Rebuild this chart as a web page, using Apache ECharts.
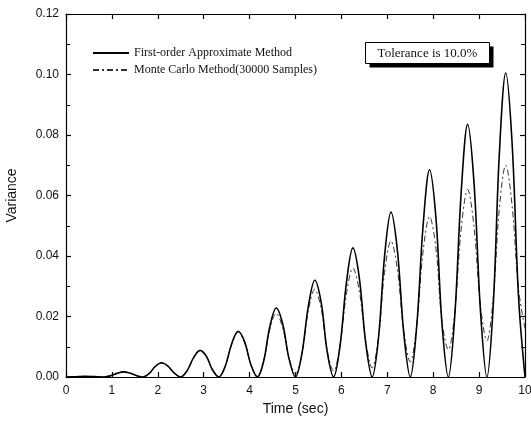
<!DOCTYPE html>
<html>
<head>
<meta charset="utf-8">
<script src="https://cdn.jsdelivr.net/npm/echarts@6/dist/echarts.min.js"></script>
<style>
  html, body { margin: 0; padding: 0; background: #fff; }
  #chart { width: 531px; height: 430px; }
</style>
</head>
<body>
<div id="chart"></div>
<script>
// time samples (sec), six per oscillation hump
const times = [
  0, 0.14, 0.28, 0.42, 0.56, 0.69,
  0.83, 0.97, 1.11, 1.25, 1.39, 1.53,
  1.67, 1.81, 1.94, 2.08, 2.22, 2.36,
  2.5, 2.64, 2.78, 2.92, 3.06, 3.19,
  3.33, 3.47, 3.61, 3.75, 3.89, 4.03,
  4.17, 4.31, 4.44, 4.58, 4.72, 4.86,
  5.0, 5.14, 5.28, 5.42, 5.56, 5.69,
  5.83, 5.97, 6.11, 6.25, 6.39, 6.53,
  6.67, 6.81, 6.94, 7.08, 7.22, 7.36,
  7.5, 7.64, 7.78, 7.92, 8.06, 8.19,
  8.33, 8.47, 8.61, 8.75, 8.89, 9.03,
  9.17, 9.31, 9.44, 9.58, 9.72, 9.86,
  10
];

const firstOrder = [
  0, 0.00005, 0.00015, 0.0002, 0.00016, 0.00006,
  0, 0.0004, 0.0012, 0.0017, 0.0013, 0.0005,
  0, 0.0011, 0.0034, 0.0047, 0.0036, 0.0013,
  0, 0.0021, 0.0064, 0.0088, 0.0068, 0.0024,
  0, 0.0036, 0.011, 0.0151, 0.0117, 0.0040,
  0, 0.0055, 0.0166, 0.0228, 0.0176, 0.0060,
  0, 0.0077, 0.0234, 0.0320, 0.0246, 0.0084,
  0, 0.0103, 0.0312, 0.0427, 0.0328, 0.0112,
  0, 0.0132, 0.0399, 0.0545, 0.0418, 0.0143,
  0, 0.0166, 0.0501, 0.0685, 0.0525, 0.0179,
  0, 0.0202, 0.0611, 0.0835, 0.0640, 0.0218,
  0, 0.0243, 0.0735, 0.1005, 0.0770, 0.0262,
  0
];

const monteCarlo = [
  0, 0.00005, 0.00015, 0.0002, 0.00016, 0.00006,
  0, 0.0004, 0.0012, 0.0017, 0.0013, 0.0005,
  0, 0.0011, 0.0034, 0.0046, 0.0035, 0.0013,
  0, 0.0021, 0.0063, 0.0087, 0.0067, 0.0024,
  0.0001, 0.0036, 0.0108, 0.0148, 0.0114, 0.0041,
  0.0003, 0.0055, 0.0158, 0.021, 0.0163, 0.0062,
  0.001, 0.0078, 0.0220, 0.029, 0.0226, 0.0088,
  0.002, 0.0105, 0.0275, 0.036, 0.0285, 0.0118,
  0.003, 0.0135, 0.0345, 0.045, 0.0355, 0.015,
  0.005, 0.0170, 0.0415, 0.053, 0.0425, 0.0185,
  0.009, 0.0215, 0.0490, 0.062, 0.0495, 0.0235,
  0.012, 0.0265, 0.0555, 0.070, 0.0565, 0.029,
  0.016
];

const seriesNames = [
  "First-order Approximate Method",
  "Monte Carlo Method(30000 Samples)"
];
const noteText = "Tolerance is 10.0%";

const pair = (ys) => times.map((t, i) => [t, ys[i]]);

const chart = echarts.init(document.getElementById("chart"));

const tickInside = { show: true, inside: true, length: 5, lineStyle: { color: "#000", width: 1.2 } };
const minorInside = { show: true, splitNumber: 2, length: 4, lineStyle: { color: "#000", width: 1 } };
const axisLine = { show: true, onZero: false, lineStyle: { color: "#000", width: 1.2 } };
const labelFont = { color: "#111", fontFamily: "Liberation Sans, Arial", fontSize: 12 };

chart.setOption({
  animation: false,
  grid: { left: 66, right: 6, top: 14, bottom: 53, outerBoundsMode: "none", containLabel: false },
  legend: {
    orient: "vertical",
    left: 87,
    top: 42,
    itemWidth: 36,
    itemHeight: 10,
    itemGap: 5,
    data: seriesNames,
    itemStyle: { opacity: 0 },
    textStyle: { fontFamily: "Liberation Serif, Times New Roman", fontSize: 12, color: "#111" }
  },
  xAxis: [
    {
      type: "value", min: 0, max: 10, interval: 1,
      axisLine, axisTick: tickInside,
      axisLabel: { ...labelFont, margin: 8 },
      splitLine: { show: false },
      name: "Time (sec)", nameLocation: "middle", nameGap: 20,
      nameTextStyle: { fontFamily: "Liberation Sans, Arial", fontSize: 14, color: "#111" }
    },
    {
      type: "value", min: 0, max: 10, interval: 1, position: "top",
      axisLine, axisTick: tickInside, axisLabel: { show: false },
      splitLine: { show: false }
    }
  ],
  yAxis: [
    {
      type: "value", min: 0, max: 0.12, interval: 0.02,
      axisLine, axisTick: tickInside, minorTick: minorInside,
      axisLabel: { ...labelFont, margin: 7, formatter: (v) => v.toFixed(2) },
      splitLine: { show: false },
      name: "Variance", nameLocation: "middle", nameGap: 47,
      nameTextStyle: { fontFamily: "Liberation Sans, Arial", fontSize: 14, color: "#111" }
    },
    {
      type: "value", min: 0, max: 0.12, interval: 0.02, position: "right",
      axisLine, axisTick: tickInside, minorTick: minorInside,
      axisLabel: { show: false },
      splitLine: { show: false }
    }
  ],
  series: [
    {
      name: seriesNames[0],
      type: "line",
      data: pair(firstOrder),
      smooth: 0.35,
      showSymbol: false,
      symbol: "none",
      lineStyle: { color: "#000", width: 1.6 },
      itemStyle: { color: "#000" },
      z: 3
    },
    {
      name: seriesNames[1],
      type: "line",
      data: pair(monteCarlo),
      smooth: 0.35,
      showSymbol: false,
      symbol: "none",
      lineStyle: { color: "#333", width: 1, type: [6, 3, 2, 3] },
      itemStyle: { color: "#333" },
      z: 2
    }
  ],
  graphic: [
    {
      type: "group", left: 365, top: 42,
      children: [
        { type: "rect", shape: { x: 4, y: 4, width: 124, height: 21 }, style: { fill: "#000" } },
        { type: "rect", shape: { x: 0, y: 0, width: 124, height: 21 }, style: { fill: "#fff", stroke: "#000", lineWidth: 1 } },
        {
          type: "text", x: 62, y: 11,
          style: {
            text: noteText, align: "center", verticalAlign: "middle",
            fontFamily: "Liberation Serif, Times New Roman", fontSize: 13, fill: "#111"
          }
        }
      ]
    }
  ]
});
</script>
</body>
</html>
